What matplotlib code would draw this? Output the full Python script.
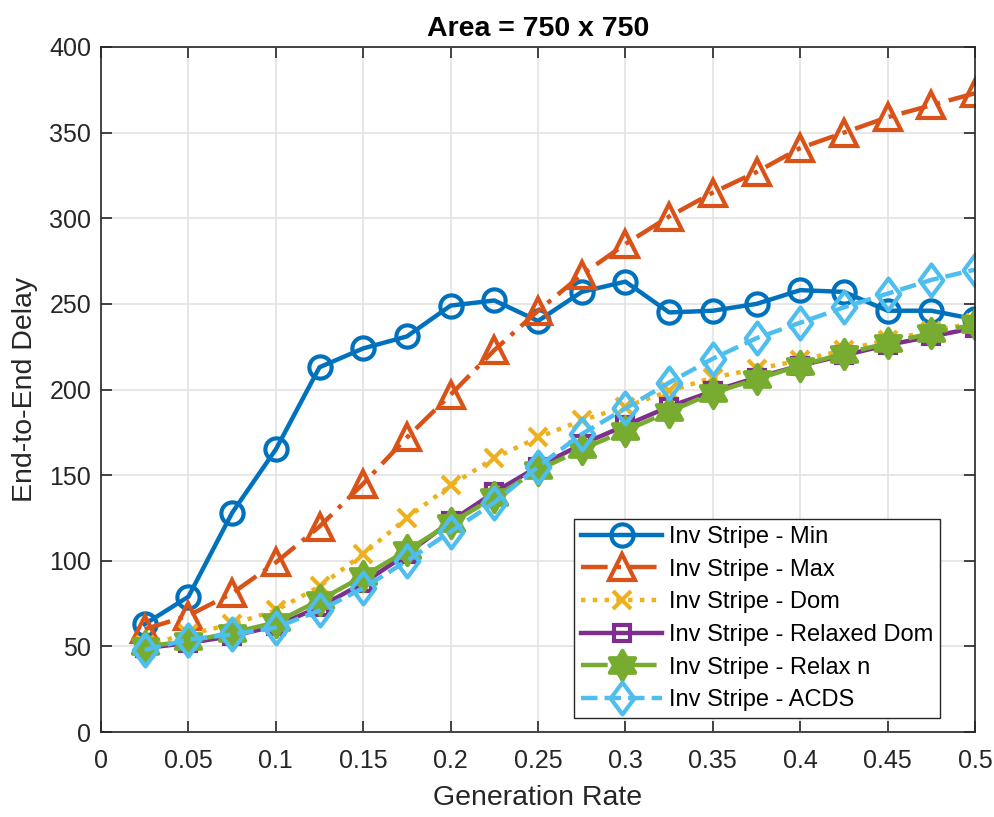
import matplotlib
matplotlib.use("Agg")
import matplotlib.pyplot as plt
from matplotlib.path import Path
import numpy as np

plt.rcParams['font.family'] = ['Liberation Sans', 'DejaVu Sans']

rates = [0.025, 0.05, 0.075, 0.1, 0.125, 0.15, 0.175, 0.2, 0.225, 0.25,
         0.275, 0.3, 0.325, 0.35, 0.375, 0.4, 0.425, 0.45, 0.475, 0.5]

inv_min = [63, 79, 128, 165, 213, 224, 231, 249, 252, 240,
           257, 263, 245, 246, 250, 258, 257, 246, 246, 241]
inv_max = [60, 68, 81, 99, 120, 145, 172, 197, 223, 246,
           267, 285, 301, 315, 327, 341, 350, 359, 366, 373]
inv_dom = [51, 57, 63, 71, 85, 104, 125, 144, 160, 172,
           182, 190, 199, 207, 212, 217, 223, 229, 234, 239]
inv_relaxed_dom = [49, 52, 56, 62, 73, 87, 104, 123, 140, 155,
                   168, 179, 190, 199, 207, 214, 220, 226, 231, 236]
inv_relax_n = [50, 53, 58, 64, 77, 91, 106, 122, 137, 153,
               165, 176, 187, 198, 206, 214, 221, 227, 233, 238]
inv_acds = [48, 54, 57, 61, 71, 84, 100, 117, 134, 155,
            174, 189, 204, 218, 230, 239, 248, 256, 264, 270]

labels = ['Inv Stripe - Min', 'Inv Stripe - Max', 'Inv Stripe - Dom',
          'Inv Stripe - Relaxed Dom', 'Inv Stripe - Relax n', 'Inv Stripe - ACDS']
colors = ['#0072BD', '#D95319', '#EDB120', '#7E2F8E', '#77AC30', '#4DBEEE']

# custom markers: tall diamond and six-pointed star (hexagram)
diamond = Path([(0, 1), (0.74, 0), (0, -1), (-0.74, 0), (0, 1)],
               [Path.MOVETO, Path.LINETO, Path.LINETO, Path.LINETO, Path.CLOSEPOLY])
ang = np.pi / 2 + np.arange(12) * np.pi / 6
rad = np.where(np.arange(12) % 2 == 0, 1.0, 0.577)
hexagram = Path(np.column_stack([rad * np.cos(ang), rad * np.sin(ang)]).tolist() + [[0, 1]],
                [Path.MOVETO] + [Path.LINETO] * 11 + [Path.CLOSEPOLY])

markers = ['o', '^', 'x', 's', hexagram, diamond]
styles = ['-', (0, (6, 2, 1, 2)), ':', '-', (0, (6, 2, 1, 2)), '--']
msizes = [16, 19, 13, 12, 21, 23]
series = [inv_min, inv_max, inv_dom, inv_relaxed_dom, inv_relax_n, inv_acds]
filled = [False, False, False, False, True, False]

fig = plt.figure(figsize=(9.95, 8.17), dpi=100)
ax = fig.add_axes([0.1015, 0.104, 0.8785, 0.8385])

for y, lab, c, m, ls, ms, f in zip(series, labels, colors, markers, styles, msizes, filled):
    ax.plot(rates, y, linestyle=ls, color=c, marker=m, markersize=ms,
            markeredgewidth=3, linewidth=3.2, label=lab,
            markerfacecolor=(c if f else 'none'))

ax.set_xlim(0, 0.5)
ax.set_ylim(0, 400)
ax.set_xticks(np.arange(0, 0.501, 0.05))
ax.set_xticklabels(['0', '0.05', '0.1', '0.15', '0.2', '0.25', '0.3', '0.35', '0.4', '0.45', '0.5'])
ax.set_yticks(np.arange(0, 401, 50))
ax.grid(True, color='#e3e3e3', linewidth=1.2)
ax.set_axisbelow(True)
ax.tick_params(direction='in', length=8, width=1.2, top=True, right=True,
               labelsize=18, colors='#262626', pad=7)
ax.tick_params(axis='x', pad=12)
for s in ax.spines.values():
    s.set_color('#262626')
    s.set_linewidth(1.2)

ax.set_xlabel('Generation Rate', fontsize=20.5, color='#262626', labelpad=9)
ax.set_ylabel('End-to-End Delay', fontsize=20.5, color='#262626', labelpad=8)
ax.set_title('Area = 750 x 750', fontsize=20.5, fontweight='bold', pad=8)

leg = ax.legend(loc='lower right', bbox_to_anchor=(0.96, 0.02), fontsize=17,
                handlelength=3.4, framealpha=1, fancybox=False, edgecolor='#262626',
                borderpad=0.3, labelspacing=0.45, handletextpad=0.3, borderaxespad=0)
leg.get_frame().set_linewidth(1.0)

fig.savefig('out.png', dpi=100)
